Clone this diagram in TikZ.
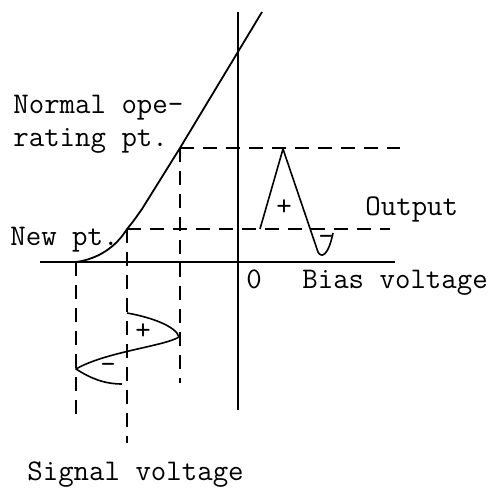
\documentclass[tikz,border=0pt]{standalone}
\usepackage{tikz}
\usetikzlibrary{positioning}

\begin{document}
\begin{tikzpicture}[x=0.5pt, y=-0.5pt,
  lbl/.style={font=\ttfamily\fontsize{15}{16.5}\selectfont, inner sep=0pt},
  sgn/.style={font=\ttfamily\fontsize{15}{16}\selectfont, inner sep=0pt},
  axis/.style={line width=0.9pt},
  proj/.style={line width=0.8pt, dash pattern=on 7pt off 4.5pt},
  wave/.style={line width=0.8pt, line join=round}]
\useasboundingbox (0,0) rectangle (493,494);

% Axes
\coordinate (xl) at (40,262);
\coordinate (xr) at (395,262);
\coordinate (yt) at (238,12);
\coordinate (yb) at (238,410);
\draw[axis] (xl) -- (xr);
\draw[axis] (yt) -- (yb);

% Characteristic curve
\coordinate (cutoff) at (76,262);
\coordinate (newpt) at (127,229);
\coordinate (knee) at (142,209);
\coordinate (oppt) at (180,148);
\coordinate (ctop) at (262,12);
\draw[axis] (cutoff) .. controls (98,259) and (116,247) .. (newpt)
  .. controls (133,222) and (137,216) .. (knee) -- (oppt) -- (ctop);

% Projection lines
\coordinate (opright) at (400,148);
\coordinate (newright) at (390,229);
\coordinate (opdown) at (180,383);
\coordinate (newdown) at (127,443);
\coordinate (cutdown) at (76,415);
\draw[proj] (oppt) -- (opright);
\draw[proj] (newpt) -- (newright);
\draw[proj] (oppt) -- (opdown);
\draw[proj] (newpt) -- (newdown);
\draw[proj] (cutoff) -- (cutdown);

% Output wave
\coordinate (o1) at (260,229);
\coordinate (o2) at (283,149);
\coordinate (o3) at (318,252);
\coordinate (o4) at (333,233);
\draw[wave] (o1) -- (o2) -- (o3) .. controls (321,258) and (328,257) .. (o4);
\node[sgn] (oplus) at (284,208) {+};
\node[sgn] (ominus) at (326,240) {-};

% Signal wave
\coordinate (s1) at (127,313);
\coordinate (s2) at (179,337);
\coordinate (s3) at (76,369);
\coordinate (s4) at (122,384);
\draw[wave] (s1) .. controls (150,317) and (176,326) .. (s2)
  .. controls (165,346) and (105,352) .. (s3)
  .. controls (90,378) and (104,384) .. (s4);
\node[sgn] (splus) at (143,332) {+};
\node[sgn] (sminus) at (108,368) {-};

% Labels
\node[lbl, align=left, anchor=north west] (normal) at (13,95) {Normal ope-\\rating pt.};
\node[lbl, anchor=base west] (new) at (10,245) {New pt.};
\node[lbl, anchor=base west] (output) at (365,215) {Output};
\node[lbl, anchor=base west] (zero) at (246,288) {0};
\node[lbl, anchor=base west] (bias) at (302,288) {Bias voltage};
\node[lbl, anchor=base west] (signal) at (27,480) {Signal voltage};

\end{tikzpicture}
\end{document}
